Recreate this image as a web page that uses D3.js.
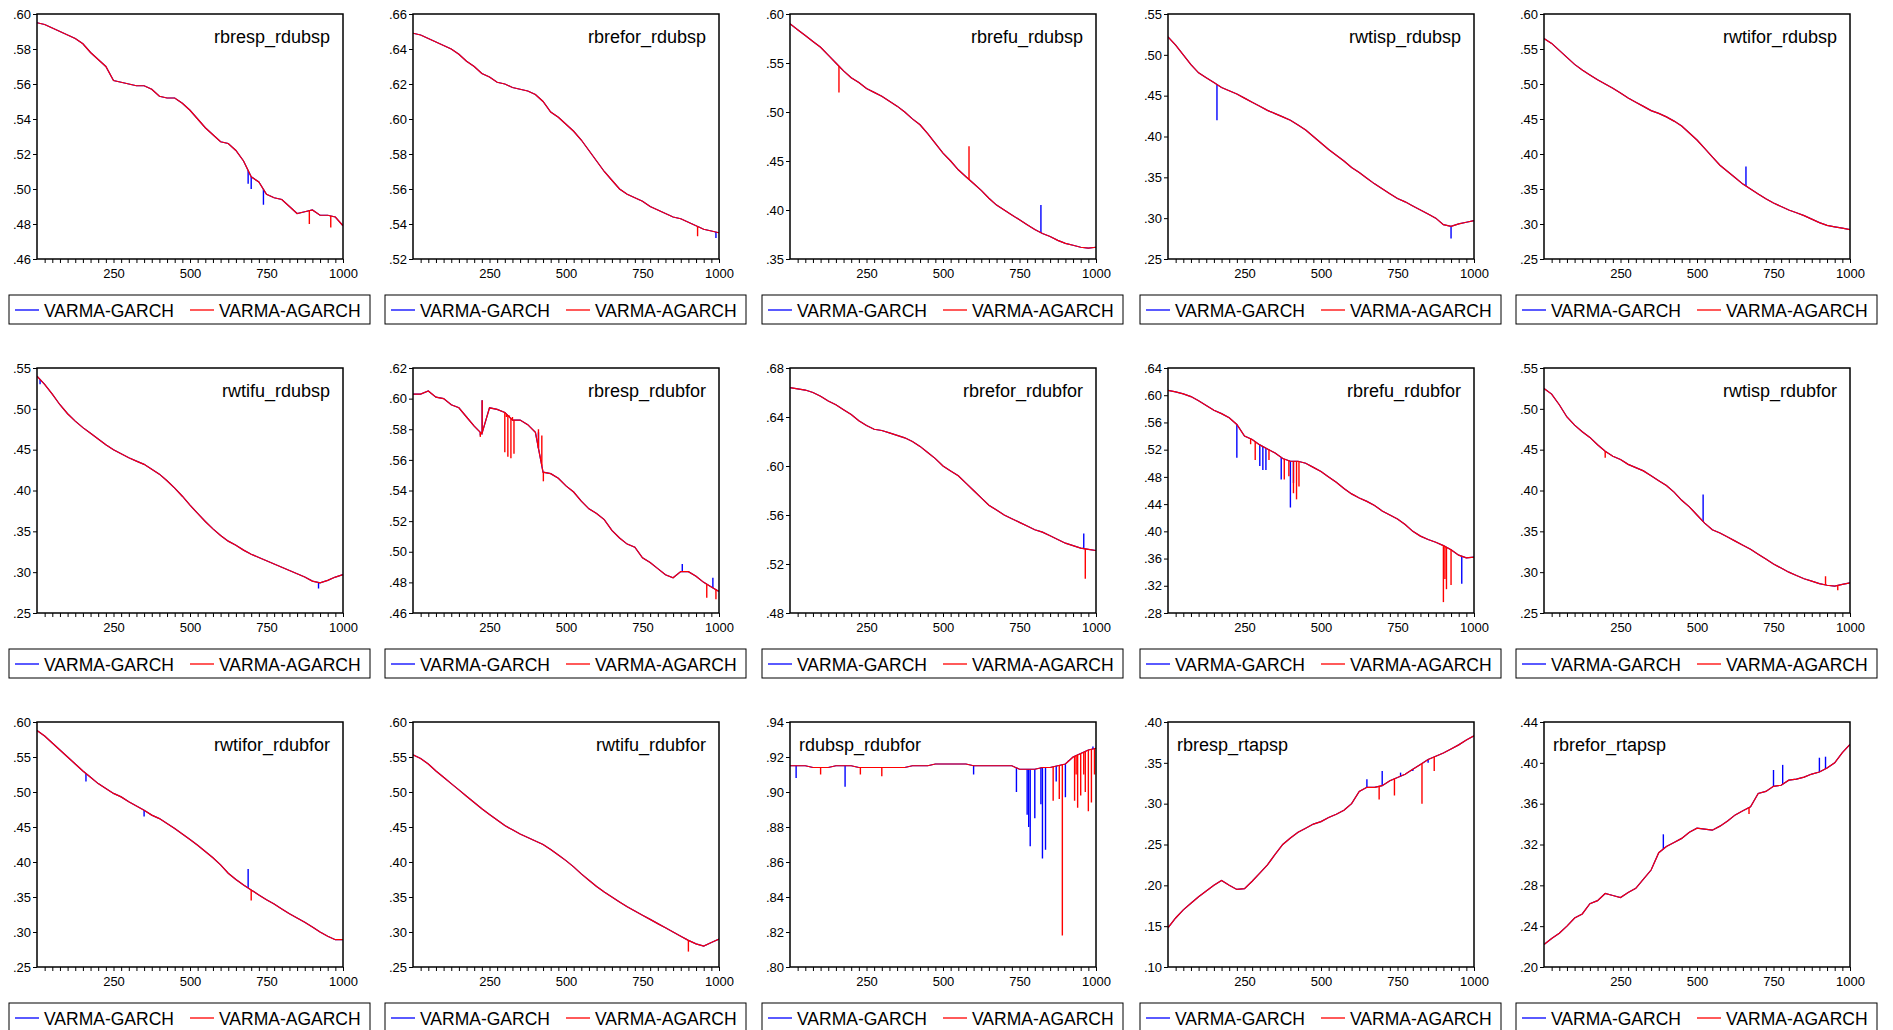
<!DOCTYPE html>
<html>
<head>
<meta charset="UTF-8">
<script src="https://d3js.org/d3.v7.min.js"></script>
<style>
  body { margin: 0; background: #fff; }
  svg { font-family: Arial, "Liberation Sans", sans-serif; }
</style>
</head>
<body>
<svg id="chart" width="1893" height="1030"></svg>
<script>
// panel names, in reading order
const names = ["rbresp_rdubsp","rbrefor_rdubsp","rbrefu_rdubsp","rwtisp_rdubsp","rwtifor_rdubsp",
  "rwtifu_rdubsp","rbresp_rdubfor","rbrefor_rdubfor","rbrefu_rdubfor","rwtisp_rdubfor",
  "rwtifor_rdubfor","rwtifu_rdubfor","rdubsp_rdubfor","rbresp_rtapsp","rbrefor_rtapsp"];

// y axis ranges [min, max, step]
const yRanges = [[.46,.60,.02],[.52,.66,.02],[.35,.60,.05],[.25,.55,.05],[.25,.60,.05],
  [.25,.55,.05],[.46,.62,.02],[.48,.68,.04],[.28,.64,.04],[.25,.55,.05],
  [.25,.60,.05],[.25,.60,.05],[.80,.94,.02],[.10,.40,.05],[.20,.44,.04]];

// common path of both models, read every 25 observations (0..1000)
const base = [
 [.595,.594,.592,.590,.588,.586,.583,.578,.574,.570,.562,.561,.560,.559,.559,.557,.553,.552,.552,.549,.545,.540,.535,.531,.527,.526,.522,.516,.507,.504,.497,.495,.494,.490,.486,.487,.488,.485,.485,.484,.479],
 [.649,.648,.646,.644,.642,.640,.637,.633,.630,.626,.624,.621,.620,.618,.617,.616,.614,.610,.604,.601,.597,.593,.588,.582,.576,.570,.565,.560,.557,.555,.553,.550,.548,.546,.544,.543,.541,.539,.537,.536,.535],
 [.590,.584,.578,.572,.566,.558,.550,.542,.535,.530,.524,.520,.516,.511,.506,.500,.493,.487,.478,.468,.458,.450,.441,.434,.427,.420,.412,.405,.400,.395,.390,.385,.380,.376,.373,.369,.366,.364,.362,.361,.362],
 [.522,.512,.500,.488,.478,.472,.466,.460,.456,.452,.447,.442,.437,.432,.428,.424,.420,.414,.408,.400,.392,.384,.377,.370,.362,.356,.349,.342,.336,.330,.324,.320,.315,.310,.305,.300,.292,.290,.293,.295,.297],
 [.565,.558,.548,.538,.528,.520,.513,.506,.500,.494,.487,.480,.474,.468,.462,.458,.453,.447,.440,.430,.420,.408,.396,.384,.375,.366,.357,.350,.343,.336,.330,.325,.320,.316,.312,.307,.302,.298,.296,.294,.292],
 [.540,.530,.518,.505,.494,.485,.477,.470,.463,.456,.450,.445,.440,.436,.432,.426,.420,.412,.403,.393,.382,.372,.362,.353,.345,.338,.333,.327,.322,.318,.314,.310,.306,.302,.298,.294,.289,.287,.290,.294,.297],
 [.603,.603,.605,.601,.600,.596,.594,.588,.582,.577,.594,.593,.591,.586,.586,.583,.578,.552,.551,.548,.543,.539,.533,.528,.525,.521,.514,.509,.505,.503,.496,.493,.489,.485,.483,.487,.487,.484,.480,.477,.474],
 [.664,.663,.662,.660,.657,.653,.650,.646,.642,.637,.633,.630,.629,.627,.625,.623,.620,.616,.611,.606,.600,.596,.592,.586,.580,.574,.568,.564,.560,.557,.554,.551,.548,.546,.543,.540,.537,.535,.533,.532,.531],
 [.607,.605,.602,.598,.592,.585,.578,.573,.567,.557,.540,.535,.527,.521,.515,.507,.503,.503,.500,.494,.488,.480,.472,.463,.455,.449,.444,.438,.430,.424,.418,.410,.400,.393,.388,.384,.379,.373,.365,.361,.362],
 [.525,.518,.505,.490,.480,.472,.465,.456,.448,.442,.438,.432,.428,.424,.418,.412,.406,.398,.388,.380,.370,.360,.352,.348,.343,.338,.333,.328,.322,.316,.310,.305,.300,.296,.292,.289,.286,.284,.283,.285,.287],
 [.588,.580,.570,.560,.550,.540,.530,.521,.512,.505,.498,.493,.486,.480,.474,.467,.462,.455,.448,.440,.432,.424,.415,.406,.396,.384,.375,.367,.360,.353,.346,.340,.333,.326,.320,.314,.307,.300,.294,.289,.289],
 [.553,.548,.540,.530,.521,.512,.503,.494,.485,.476,.468,.460,.452,.446,.440,.435,.430,.425,.418,.410,.402,.393,.383,.374,.365,.357,.350,.343,.336,.330,.324,.318,.312,.306,.300,.294,.288,.283,.280,.285,.290],
 [.915,.915,.915,.914,.914,.914,.915,.915,.915,.914,.914,.914,.914,.914,.914,.914,.915,.915,.915,.916,.916,.916,.916,.916,.915,.915,.915,.915,.915,.915,.913,.913,.913,.914,.914,.915,.916,.920,.922,.924,.925],
 [.148,.160,.170,.178,.186,.193,.200,.206,.200,.195,.196,.205,.215,.225,.238,.250,.258,.265,.270,.275,.278,.283,.287,.292,.300,.315,.320,.320,.322,.328,.332,.336,.342,.348,.354,.358,.362,.367,.372,.378,.383],
 [.222,.228,.233,.240,.248,.252,.262,.265,.272,.270,.268,.273,.277,.286,.295,.312,.318,.322,.326,.332,.336,.335,.334,.338,.343,.349,.353,.357,.370,.372,.377,.378,.383,.384,.386,.389,.391,.395,.400,.410,.418]
];

// spikes [observation, value] of VARMA-GARCH
const garchSpikes = [
 [[690,.503],[700,.500],[740,.491]],
 [[990,.532]],
 [[820,.405]],
 [[160,.420],[925,.275]],
 [[660,.382]],
 [[10,.530],[920,.280]],
 [[220,.576],[226,.599],[410,.578],[418,.560],[880,.492],[980,.483]],
 [[960,.545]],
 [[225,.508],[300,.496],[310,.490],[320,.490],[370,.476],[400,.435],[410,.471],[960,.323]],
 [[520,.395]],
 [[160,.515],[350,.465],[690,.390]],
 [],
 [[20,.908],[180,.903],[600,.910],[740,.900],[775,.887],[780,.880],[785,.869],[800,.885],[820,.893],[825,.862],[835,.867],[870,.906],[900,.897],[910,.918],[990,.926]],
 [[650,.330],[700,.340],[760,.338],[800,.340],[850,.350]],
 [[390,.330],[750,.393],[780,.398],[900,.405],[920,.406]]
];

// spikes [observation, value] of VARMA-AGARCH
const agarchSpikes = [
 [[890,.480],[960,.478]],
 [[930,.533]],
 [[160,.520],[585,.465]],
 [],
 [],
 [],
 [[220,.575],[226,.599],[300,.565],[305,.588],[310,.562],[315,.589],[320,.561],[325,.588],[330,.564],[335,.586],[410,.580],[421,.576],[426,.546],[960,.470],[990,.469]],
 [[965,.508]],
 [[270,.528],[285,.505],[330,.505],[380,.476],[395,.481],[410,.456],[420,.447],[428,.466],[900,.296],[905,.330],[910,.315],[925,.321]],
 [[200,.440],[920,.295],[960,.278]],
 [[700,.345]],
 [[900,.272]],
 [[100,.910],[230,.910],[300,.909],[860,.895],[880,.896],[890,.818],[930,.895],[935,.910],[940,.891],[950,.898],[960,.910],[965,.900],[975,.889],[985,.894],[995,.910]],
 [[690,.305],[740,.310],[830,.300],[870,.340]],
 [[670,.350]]
];

const seriesNames = ["VARMA-GARCH", "VARMA-AGARCH"];
const colors = ["#0000ff", "#ff0000"];
const xMajor = [250, 500, 750, 1000];

const colX = [37, 413, 790, 1168, 1544];
const rowY = [14, 368, 722];
const W = 306, H = 245;

const svg = d3.select("#chart");
const fmt = v => d3.format(".2f")(v).replace(/^0/, "");

names.forEach((name, i) => {
  const left = colX[i % 5], top = rowY[Math.floor(i / 5)];
  const g = svg.append("g").attr("transform", `translate(${left},${top})`);
  const [y0, y1, step] = yRanges[i];
  const x = d3.scaleLinear().domain([0, 1000]).range([0, W]);
  const y = d3.scaleLinear().domain([y0, y1]).range([H, 0]);
  const pts = base[i].map((v, k) => [k * 1000 / (base[i].length - 1), v]);

  const clip = "clip" + i;
  g.append("clipPath").attr("id", clip).append("rect").attr("width", W).attr("height", H);
  const plot = g.append("g").attr("clip-path", `url(#${clip})`);
  const line = d3.line().x(d => x(d[0])).y(d => y(d[1]));

  [garchSpikes[i], agarchSpikes[i]].forEach((sp, s) => {
    plot.append("path").datum(pts).attr("d", line)
      .attr("fill", "none").attr("stroke", colors[s]).attr("stroke-width", 1.2);
    // needles back to the line
    const baseAt = d3.scaleLinear().domain(pts.map(p => p[0])).range(pts.map(p => p[1]));
    plot.selectAll(null).data(sp).join("line")
      .attr("x1", d => x(d[0])).attr("x2", d => x(d[0]))
      .attr("y1", d => y(baseAt(d[0]))).attr("y2", d => y(d[1]))
      .attr("stroke", colors[s]).attr("stroke-width", 1.4);
  });

  // y axis
  const yTicks = d3.range(Math.round((y1 - y0) / step) + 1).map(k => y0 + k * step);
  const ya = g.append("g").call(d3.axisLeft(y).tickValues(yTicks).tickSize(4).tickFormat(fmt));
  ya.select(".domain").remove();
  ya.selectAll("line").attr("stroke", "#000");
  ya.selectAll("text").attr("font-size", 13).attr("fill", "#000").attr("dx", 1);

  // x axis: minor ticks every 25
  const xa = g.append("g").attr("transform", `translate(0,${H})`)
    .call(d3.axisBottom(x).tickValues(d3.range(25, 1001, 25)).tickSize(4)
      .tickFormat(d => xMajor.includes(d) ? d : ""));
  xa.select(".domain").remove();
  xa.selectAll("line").attr("stroke", "#000");
  xa.selectAll("text").attr("font-size", 13).attr("fill", "#000").attr("dy", "0.9em");

  g.append("rect").attr("width", W).attr("height", H)
    .attr("fill", "none").attr("stroke", "#000").attr("stroke-width", 1.5);

  const leftTitle = i >= 12;
  g.append("text").text(name)
    .attr("x", leftTitle ? 9 : W - 13).attr("y", 29)
    .attr("text-anchor", leftTitle ? "start" : "end")
    .attr("font-size", 18);

  // legend
  const lg = g.append("g").attr("transform", `translate(-28,${H + 36})`);
  lg.append("rect").attr("width", W + 55).attr("height", 29)
    .attr("fill", "#fff").attr("stroke", "#000").attr("stroke-width", 1);
  seriesNames.forEach((s, k) => {
    const ox = k === 0 ? 6 : 181;
    lg.append("line").attr("x1", ox).attr("x2", ox + 24).attr("y1", 15).attr("y2", 15)
      .attr("stroke", colors[k]).attr("stroke-width", 1.3);
    lg.append("text").text(s).attr("x", ox + 29).attr("y", 22).attr("font-size", 17.5);
  });
});
</script>
</body>
</html>
